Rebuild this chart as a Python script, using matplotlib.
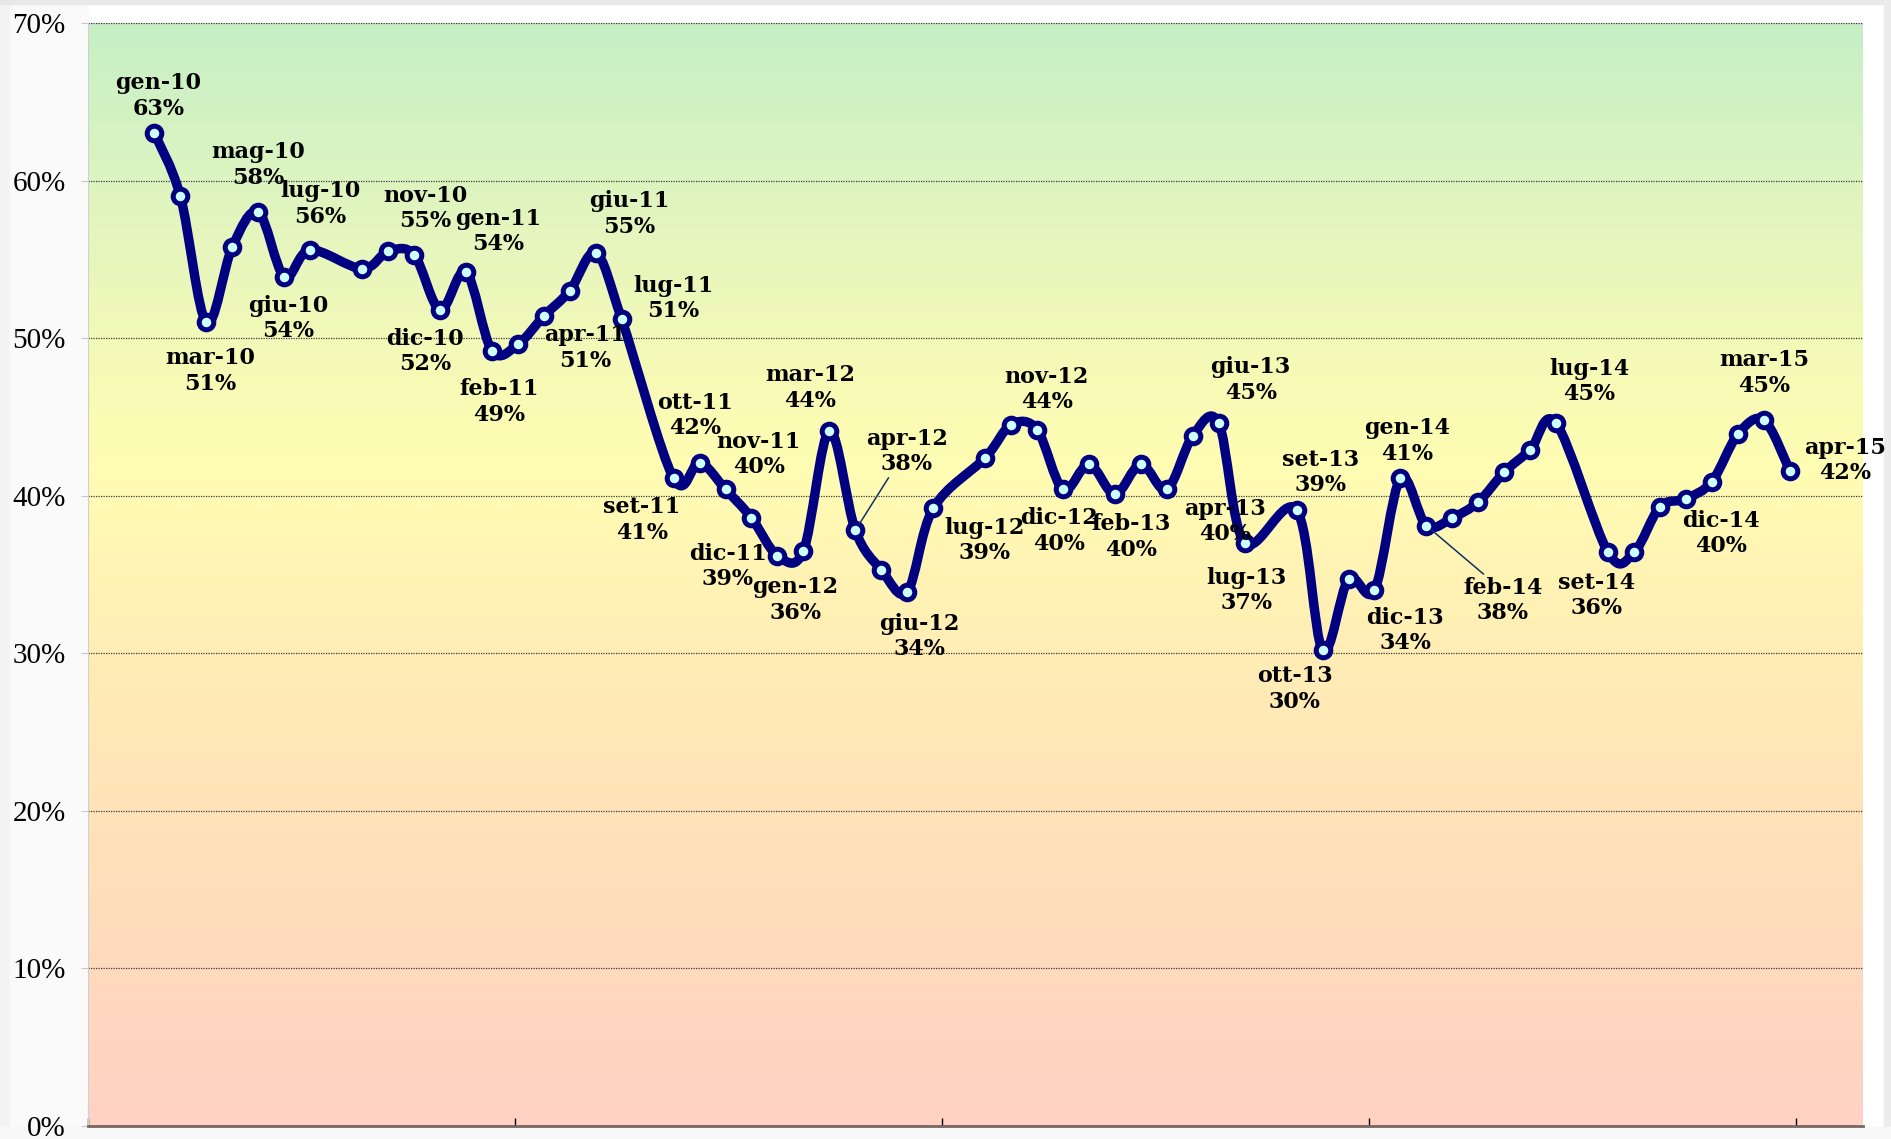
import numpy as np
import matplotlib
matplotlib.use('Agg')
import matplotlib.pyplot as plt
from matplotlib.path import Path
from matplotlib.patches import PathPatch, Rectangle
from matplotlib.colors import LinearSegmentedColormap

# monthly poll results (no survey in August)
periods = ['gen-10', 'feb-10', 'mar-10', 'apr-10', 'mag-10', 'giu-10', 'lug-10', 'set-10', 'ott-10', 'nov-10', 'dic-10',
           'gen-11', 'feb-11', 'mar-11', 'apr-11', 'mag-11', 'giu-11', 'lug-11', 'set-11', 'ott-11', 'nov-11', 'dic-11',
           'gen-12', 'feb-12', 'mar-12', 'apr-12', 'mag-12', 'giu-12', 'lug-12', 'set-12', 'ott-12', 'nov-12', 'dic-12',
           'gen-13', 'feb-13', 'mar-13', 'apr-13', 'mag-13', 'giu-13', 'lug-13', 'set-13', 'ott-13', 'nov-13', 'dic-13',
           'gen-14', 'feb-14', 'mar-14', 'apr-14', 'mag-14', 'giu-14', 'lug-14', 'set-14', 'ott-14', 'nov-14', 'dic-14',
           'gen-15', 'feb-15', 'mar-15', 'apr-15']
values = [63.0, 59.0, 51.0, 55.8, 58.0, 53.9, 55.6, 54.4, 55.5, 55.3, 51.8,
          54.2, 49.2, 49.6, 51.4, 53.0, 55.4, 51.2, 41.1, 42.1, 40.4, 38.6,
          36.2, 36.5, 44.1, 37.8, 35.3, 33.9, 39.2, 42.4, 44.5, 44.2, 40.4,
          42.0, 40.1, 42.0, 40.4, 43.8, 44.6, 37.0, 39.1, 30.2, 34.7, 34.0,
          41.1, 38.1, 38.6, 39.6, 41.5, 42.9, 44.6, 36.4, 36.4, 39.3, 39.8,
          40.9, 43.9, 44.8, 41.6]
month_names = ['gen', 'feb', 'mar', 'apr', 'mag', 'giu', 'lug', 'ago', 'set', 'ott', 'nov', 'dic']
y_ticks = [0, 10, 20, 30, 40, 50, 60, 70]

# label placement (offset in points from the marker)
label_pos = {
    'gen-10': (3, 27), 'mar-10': (3, -35), 'mag-10': (0, 34), 'giu-10': (3, -30),
    'lug-10': (7, 33), 'nov-10': (8, 33), 'dic-10': (-11, -30), 'gen-11': (23, 29),
    'feb-11': (5, -37), 'apr-11': (30, -23), 'giu-11': (24, 28), 'lug-11': (37, 15),
    'set-11': (-23, -30), 'ott-11': (-3, 34), 'nov-11': (24, 25), 'dic-11': (-17, -35),
    'gen-12': (13, -32), 'mar-12': (-14, 31), 'apr-12': (37, 57), 'giu-12': (9, -32),
    'lug-12': (37, -23), 'nov-12': (7, 29), 'dic-12': (-3, -30), 'feb-13': (12, -31),
    'apr-13': (42, -23), 'giu-13': (23, 31), 'lug-13': (1, -34), 'set-13': (17, 27),
    'ott-13': (-20, -28), 'dic-13': (22, -29), 'gen-14': (5, 27), 'feb-14': (55, -54),
    'lug-14': (24, 30), 'set-14': (-8, -31), 'dic-14': (25, -25), 'mar-15': (0, 34),
    'apr-15': (40, 7),
}
leaders = {'apr-12': (0.3, 0.0), 'feb-14': (0.3, 1.0)}


def month_index(p):
    m, y = p.split('-')
    return (int(y) - 10) * 12 + month_names.index(m)


def smooth_path(x, y):
    # Excel-like bezier smoothing through the points
    pts = np.column_stack([x, y])
    n = len(pts)
    verts = [pts[0]]
    codes = [Path.MOVETO]
    for i in range(n - 1):
        p0 = pts[max(i - 1, 0)]
        p1 = pts[i]
        p2 = pts[i + 1]
        p3 = pts[min(i + 2, n - 1)]
        c1 = p1 + (p2 - p0) / 6.0
        c2 = p2 - (p3 - p1) / 6.0
        verts += [c1, c2, p2]
        codes += [Path.CURVE4] * 3
    return Path(verts, codes)


x = np.array([month_index(p) for p in periods], dtype=float)
y = np.array(values)

W, H = 1891, 1139
fig = plt.figure(figsize=(W / 100, H / 100), dpi=100)
fig.patch.set_facecolor('white')

# frame decorations
fig.add_artist(Rectangle((0, 0), 10 / W, 1, transform=fig.transFigure, color='#F3F3F3', zorder=-2))
fig.add_artist(Rectangle((10 / W, 0), 78 / W, 1, transform=fig.transFigure, color='#FAFAFA', zorder=-2))
fig.add_artist(Rectangle((0, 1 - 4 / H), 1, 4 / H, transform=fig.transFigure, color='#E8E8E8', zorder=-1))
fig.add_artist(Rectangle((1 - 7 / W, 0), 7 / W, 1, transform=fig.transFigure, color='#ECECEC', zorder=-1))
fig.add_artist(Rectangle((0, 0), 1, 12 / H, transform=fig.transFigure, color='#F8F8F8', zorder=-1))

ax = fig.add_axes([88 / W, 13 / H, (1863 - 88) / W, (1126 - 23) / H])
xmin, xmax = -2.56, 65.82
ax.set_xlim(xmin, xmax)
ax.set_ylim(0, 70)

# background gradient
cmap = LinearSegmentedColormap.from_list('bg', [
    (0.0, '#FFD2C4'), (0.15, '#FFDABE'), (0.3, '#FFE4B8'), (0.45, '#FFEFB5'),
    (0.6, '#FFFDB3'), (0.68, '#F7FAB6'), (0.8, '#E6F6BD'), (0.9, '#D6F3C2'), (1.0, '#C6EFC6')])
grad = np.linspace(0, 1, 256).reshape(-1, 1)
ax.imshow(grad, extent=[xmin, xmax, 0, 70], aspect='auto', origin='lower', cmap=cmap, zorder=0)

ax.set_axisbelow(True)
ax.yaxis.grid(True, linestyle=(0, (1, 1)), color='#3A3A3A', linewidth=0.9)
ax.set_yticks(y_ticks)
ax.set_yticklabels([f'{t}%' for t in y_ticks], family='Liberation Serif', fontsize=21)
ax.tick_params(axis='y', direction='out', length=5, color='#C8C8C8', pad=11)
ax.set_xticks(xmin + 16.45 * np.arange(5))
ax.set_xticklabels([])
ax.tick_params(axis='x', direction='in', length=6, width=1, color='black')
for s in ['top', 'right']:
    ax.spines[s].set_visible(False)
ax.spines['left'].set_color('#D0D0D0')
ax.spines['bottom'].set_color('#7A6560')
ax.spines['bottom'].set_linewidth(2)

# smoothed line and markers
ax.add_patch(PathPatch(smooth_path(x, y), facecolor='none', edgecolor='#000080',
                       lw=6.8, capstyle='round', joinstyle='round', zorder=3))
ax.plot(x, y, linestyle='none', marker='o', markersize=10.5, markeredgewidth=3.6,
        markeredgecolor='#000080', markerfacecolor='#CCFFFF', zorder=4)

for p, xv, yv in zip(periods, x, y):
    if p not in label_pos:
        continue
    dx, dy = label_pos[p]
    txt = f'{p}\n{int(yv + 0.5)}%'
    arrow = None
    if p in leaders:
        arrow = dict(arrowstyle='-', color='#10306A', lw=1.1, relpos=leaders[p],
                     shrinkA=0, shrinkB=5)
    ax.annotate(txt, (xv, yv), xytext=(dx, dy), textcoords='offset points',
                ha='center', va='center', family='DejaVu Serif', fontweight='bold',
                fontsize=16, linespacing=1.2, color='black', zorder=5,
                arrowprops=arrow)

fig.savefig('out.png', dpi=100)
